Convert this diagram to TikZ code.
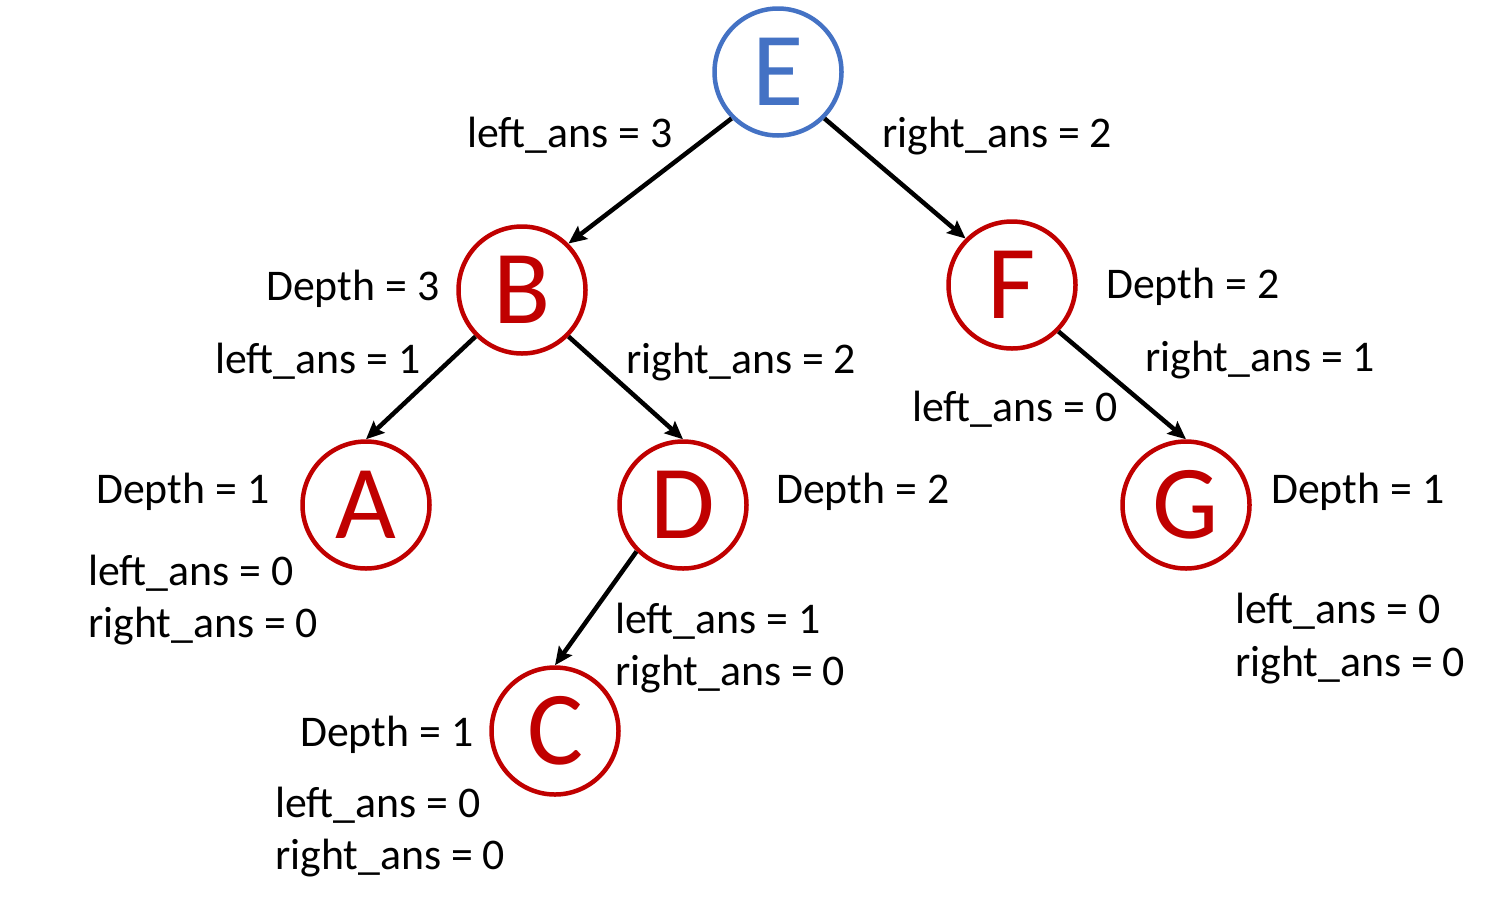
\documentclass[tikz,border=0pt]{standalone}
\usepackage{fontspec}
\setmainfont{Carlito}
\usetikzlibrary{arrows.meta}
\definecolor{nodeblue}{HTML}{4472C4}
\definecolor{nodered}{HTML}{C00000}
\begin{document}
\begin{tikzpicture}[x=1pt,y=-1pt,
  treenode/.style={circle,draw,line width=4.5pt,minimum size=127pt,inner sep=0pt,
    font=\fontsize{105}{110}\selectfont},
  rootnode/.style={treenode,draw=nodeblue,text=nodeblue},
  childnode/.style={treenode,draw=nodered,text=nodered},
  info/.style={anchor=base west,inner sep=0pt,font=\fontsize{43.8}{52}\selectfont},
  edge/.style={line width=4.5pt,-{Stealth[length=18pt,width=16pt,inset=3pt]}}]
\useasboundingbox (0,0) rectangle (1490,911);

% tree nodes
\node[rootnode]  (E) at (778,72)  {E};
\node[childnode] (B) at (522,290) {B};
\node[childnode] (F) at (1012,285) {F};
\node[childnode] (A) at (366,505) {A};
\node[childnode] (D) at (683,505) {D};
\node[childnode] (G) at (1186,505) {G};
\node[childnode] (C) at (555,731) {C};

% edges
\draw[edge] (E.south west) -- (B.north east);
\draw[edge] (E.south east) -- (F.north west);
\draw[edge] (B.south west) -- (A.north);
\draw[edge] (B.south east) -- (D.north);
\draw[edge] (F.south east) -- (G.north);
\draw[edge] (D.south west) -- (C.north);

% labels around E
\node[info] (eL) at (467,147) {left\_ans = 3};
\node[info] (eR) at (882,147) {right\_ans = 2};

% labels around B
\node[info] (bD) at (266,300) {Depth = 3};
\node[info] (bL) at (215,373) {left\_ans = 1};
\node[info] (bR) at (626,373) {right\_ans = 2};

% labels around F
\node[info] (fD) at (1106,298) {Depth = 2};
\node[info] (fR) at (1145,371) {right\_ans = 1};
\node[info] (fL) at (912,421) {left\_ans = 0};

% labels around A
\node[info] (aD) at (96,503) {Depth = 1};
\node[info] (aL) at (88,585) {left\_ans = 0};
\node[info] (aR) at (88,637) {right\_ans = 0};

% labels around D
\node[info] (dD) at (776,503) {Depth = 2};
\node[info] (dL) at (615,633) {left\_ans = 1};
\node[info] (dR) at (615,685) {right\_ans = 0};

% labels around G
\node[info] (gD) at (1271,503) {Depth = 1};
\node[info] (gL) at (1235,623) {left\_ans = 0};
\node[info] (gR) at (1235,676) {right\_ans = 0};

% labels around C
\node[info] (cD) at (300,746) {Depth = 1};
\node[info] (cL) at (275,817) {left\_ans = 0};
\node[info] (cR) at (275,869) {right\_ans = 0};
\end{tikzpicture}
\end{document}
